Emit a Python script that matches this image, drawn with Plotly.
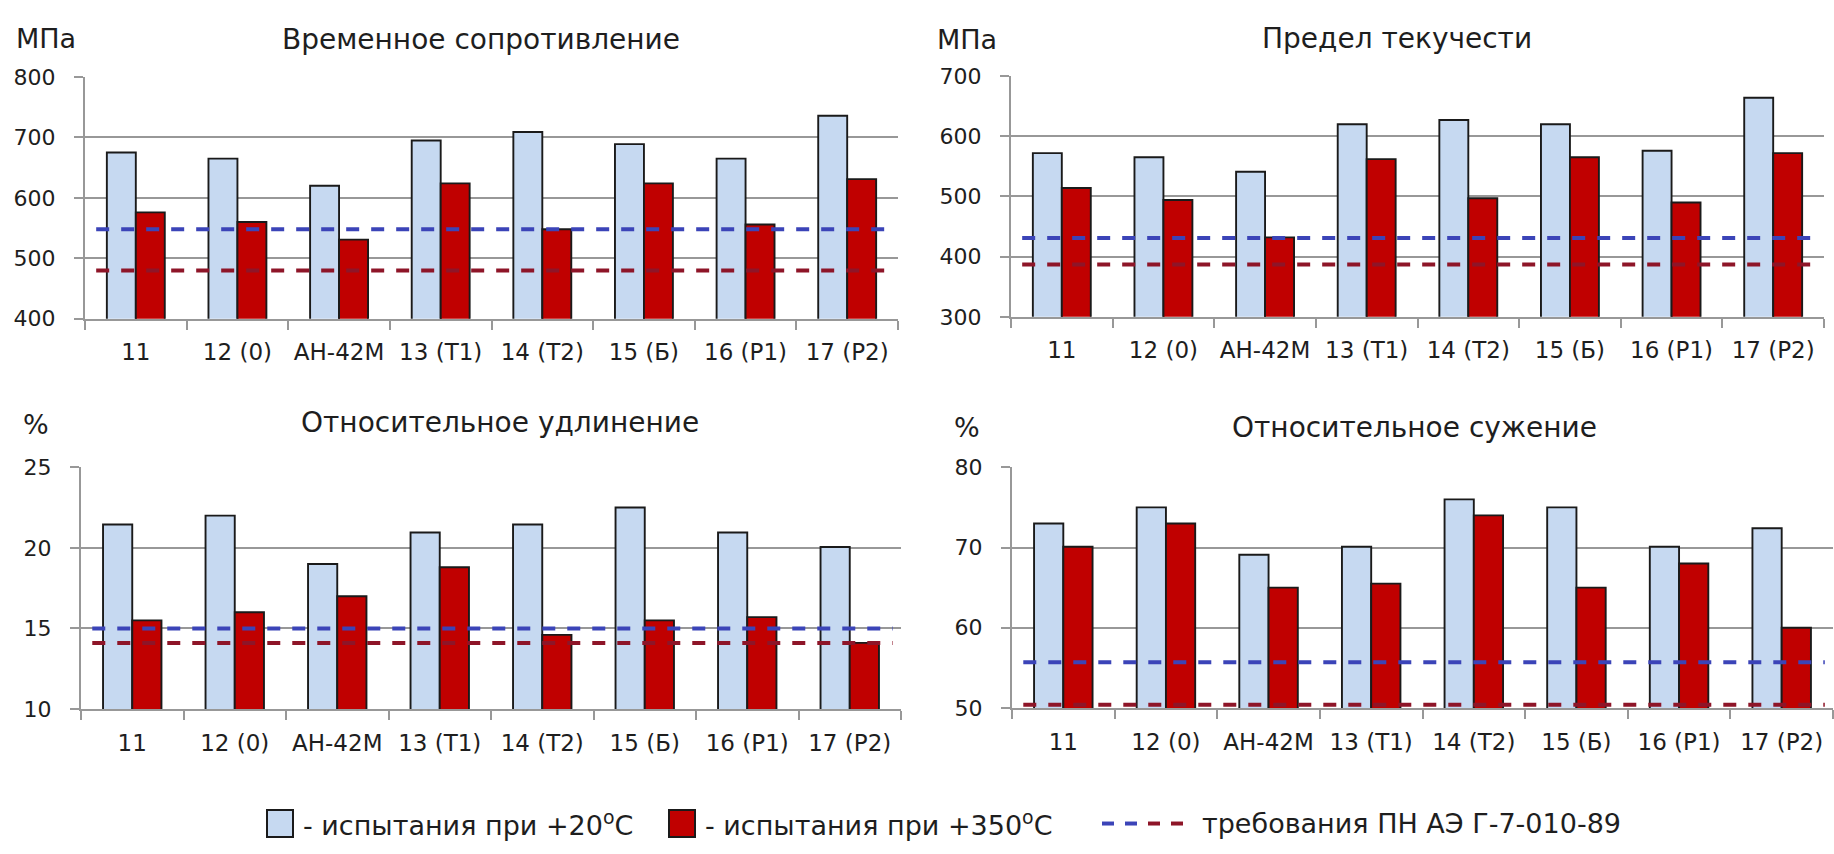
import plotly.graph_objects as go

# Marks of steel / weld metal
categories = ["11", "12 (0)", "АН-42М", "13 (Т1)", "14 (Т2)", "15 (Б)", "16 (Р1)", "17 (Р2)"]

# Временное сопротивление, МПа
uts_20 = [675, 665, 620, 695, 709, 689, 665, 736]
uts_350 = [576, 560, 531, 624, 548, 624, 556, 631]
uts_req = [548, 480]

# Предел текучести, МПа
ys_20 = [572, 565, 541, 620, 627, 620, 576, 664]
ys_350 = [514, 494, 432, 562, 497, 565, 490, 572]
ys_req = [431, 387]

# Относительное удлинение, %
el_20 = [21.45, 22.0, 19.0, 20.95, 21.45, 22.5, 20.95, 20.05]
el_350 = [15.5, 16.0, 17.0, 18.8, 14.6, 15.5, 15.7, 14.1]
el_req = [15.0, 14.1]

# Относительное сужение, %
ra_20 = [73.0, 75.0, 69.1, 70.1, 76.0, 75.0, 70.1, 72.4]
ra_350 = [70.1, 73.0, 65.0, 65.5, 74.0, 65.0, 68.0, 60.0]
ra_req = [55.7, 50.4]

panels = [
    dict(title="Временное сопротивление", unit="МПа", v20=uts_20, v350=uts_350, req=uts_req,
         yrange=[400, 800], dtick=100),
    dict(title="Предел текучести", unit="МПа", v20=ys_20, v350=ys_350, req=ys_req,
         yrange=[300, 700], dtick=100),
    dict(title="Относительное удлинение", unit="%", v20=el_20, v350=el_350, req=el_req,
         yrange=[10, 25], dtick=5),
    dict(title="Относительное сужение", unit="%", v20=ra_20, v350=ra_350, req=ra_req,
         yrange=[50, 80], dtick=10),
]

W, H = 1834, 854
FONT = "DejaVu Sans"
TXT = "#1e1e1e"
GRID = "#989898"
BLUE_FILL = "#C6D9F1"
RED_FILL = "#C00000"
BLUE_REQ = "#3B44B8"
RED_REQ = "#8E1528"

# plot areas in pixels: (left, right, top, bottom)
boxes = [
    (85, 898, 67, 316),
    (1011, 1824, 66, 314),
    (81, 901, 469, 718),
    (1012, 1833, 469, 717),
]
# title centres and unit-label positions in pixels
title_pos = [(481, 28), (1397, 27), (500, 423), (1414, 428)]
unit_pos = [(46, 27), (967, 28), (36, 425), (967, 428)]


def px(x):
    return x / W


def py(y):
    return 1 - y / H


fig = go.Figure()
idx = list(range(len(categories)))

for i, p in enumerate(panels):
    n = "" if i == 0 else str(i + 1)
    xa, ya = "x" + n, "y" + n
    fig.add_trace(go.Bar(x=idx, y=p["v20"], xaxis=xa, yaxis=ya, marker_color=BLUE_FILL,
                         marker_line=dict(color="#1a1a1a", width=1.9), showlegend=False))
    fig.add_trace(go.Bar(x=idx, y=p["v350"], xaxis=xa, yaxis=ya, marker_color=RED_FILL,
                         marker_line=dict(color="#1a1a1a", width=1.9), showlegend=False))
    for val, col in zip(p["req"], [BLUE_REQ, RED_REQ]):
        fig.add_trace(go.Scatter(x=[-0.39, 7.42], y=[val, val], xaxis=xa, yaxis=ya, mode="lines",
                                 line=dict(color=col, width=4, dash="13px,12px"),
                                 showlegend=False, hoverinfo="skip"))

    l, r, t, b = boxes[i]
    fig.layout["xaxis" + n] = dict(
        domain=[px(l), px(r)], anchor=ya, range=[-0.5, 7.5],
        tickmode="array", tickvals=idx, ticktext=categories, ticks="",
        ticklabelstandoff=12,
        minor=dict(tickmode="array", tickvals=[k - 0.5 for k in range(len(categories) + 1)],
                   ticks="outside", ticklen=9, tickwidth=2, tickcolor=GRID, showgrid=False),
        showline=True, linecolor=GRID, linewidth=2, showgrid=False, zeroline=False,
        tickfont=dict(family=FONT, size=23, color=TXT), fixedrange=True,
    )
    fig.layout["yaxis" + n] = dict(
        domain=[py(b), py(t)], anchor=xa, range=p["yrange"], dtick=p["dtick"],
        ticks="outside", ticklen=9, tickwidth=2, tickcolor=GRID, ticklabelstandoff=14,
        showline=True, linecolor=GRID, linewidth=2,
        showgrid=True, gridcolor=GRID, gridwidth=2, zeroline=False,
        tickfont=dict(family=FONT, size=22, color=TXT), fixedrange=True,
    )

    tx, ty = title_pos[i]
    fig.add_annotation(x=px(tx), y=py(ty), xref="paper", yref="paper", text=p["title"],
                       showarrow=False, xanchor="center", yanchor="middle",
                       font=dict(family=FONT, size=28, color=TXT))
    ux, uy = unit_pos[i]
    fig.add_annotation(x=px(ux), y=py(uy), xref="paper", yref="paper", text=p["unit"],
                       showarrow=False, xanchor="center", yanchor="middle",
                       font=dict(family=FONT, size=27, color=TXT))

# legend row
LEG_Y = 836
LEG_FONT = dict(family=FONT, size=27, color=TXT)
for x0, fill in [(267, BLUE_FILL), (669, RED_FILL)]:
    fig.add_shape(type="rect", xref="paper", yref="paper",
                  x0=px(x0), x1=px(x0 + 26), y0=py(LEG_Y + 14), y1=py(LEG_Y - 14),
                  fillcolor=fill, line=dict(color="#1a1a1a", width=2))
fig.add_annotation(x=px(301), y=py(LEG_Y), xref="paper", yref="paper",
                   text="- испытания при +20<sup>о</sup>С", showarrow=False,
                   xanchor="left", yanchor="middle", font=LEG_FONT)
fig.add_annotation(x=px(703), y=py(LEG_Y), xref="paper", yref="paper",
                   text="- испытания при +350<sup>о</sup>С", showarrow=False,
                   xanchor="left", yanchor="middle", font=LEG_FONT)
for k, col in enumerate([BLUE_REQ, BLUE_REQ, RED_REQ, RED_REQ]):
    x0 = 1102 + k * 23
    fig.add_shape(type="line", xref="paper", yref="paper",
                  x0=px(x0), x1=px(x0 + 12), y0=py(LEG_Y), y1=py(LEG_Y),
                  line=dict(color=col, width=4))
fig.add_annotation(x=px(1200), y=py(LEG_Y), xref="paper", yref="paper",
                   text="требования ПН АЭ Г-7-010-89", showarrow=False,
                   xanchor="left", yanchor="middle", font=LEG_FONT)

fig.update_layout(
    width=W, height=H, margin=dict(l=0, r=0, t=0, b=0),
    paper_bgcolor="white", plot_bgcolor="white",
    barmode="group", bargap=0.43, bargroupgap=0, showlegend=False,
    font=dict(family=FONT, color=TXT),
)

fig.write_html("out.html", config={"displayModeBar": False})
